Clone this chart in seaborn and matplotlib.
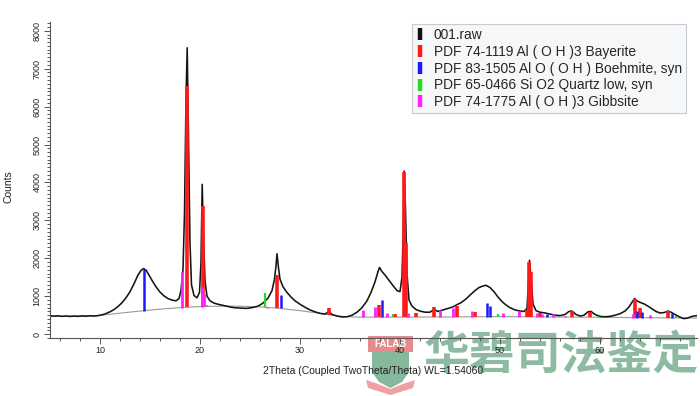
import matplotlib
matplotlib.use("Agg")
import matplotlib.pyplot as plt
import seaborn as sns
import numpy as np
import pandas as pd
from matplotlib.lines import Line2D
from matplotlib.patches import Polygon, Rectangle
from matplotlib.ticker import MultipleLocator

# ---------------- data ----------------
two_theta = [5.0, 5.4, 5.8, 6.2, 6.6, 7.0, 7.4, 7.8, 8.2, 8.6, 9.0, 9.4, 9.8, 10.2, 10.6, 11.0, 11.4, 11.8,
             12.2, 12.6, 13.0, 13.4, 13.8, 14.1, 14.35, 14.6, 14.9, 15.2, 15.6, 16.0, 16.4, 16.8, 17.2, 17.6,
             17.9, 18.1, 18.3, 18.45, 18.6, 18.72, 18.85, 19.0, 19.15, 19.4, 19.7, 19.95, 20.1, 20.22, 20.35,
             20.5, 20.7, 21.0, 21.4, 21.8, 22.3, 22.8, 23.4, 24.0, 24.6, 25.2, 25.8, 26.3, 26.8, 27.2, 27.45,
             27.6, 27.7, 27.85, 28.0, 28.3, 28.7, 29.1, 29.5, 30.0, 30.5, 31.0, 31.5, 32.0, 32.5, 32.9, 33.2,
             33.7, 34.2, 34.7, 35.2, 35.7, 36.2, 36.7, 37.1, 37.5, 37.8, 37.95, 38.2, 38.5, 38.9, 39.3, 39.7,
             40.0, 40.2, 40.33, 40.42, 40.55, 40.7, 40.9, 41.2, 41.6, 42.0, 42.5, 43.0, 43.4, 43.8, 44.3, 44.8,
             45.3, 45.7, 46.1, 46.6, 47.0, 47.5, 47.9, 48.3, 48.6, 49.0, 49.4, 49.8, 50.2, 50.6, 51.0, 51.5,
             52.0, 52.4, 52.7, 52.85, 52.95, 53.1, 53.3, 53.6, 54.0, 54.5, 55.0, 55.5, 56.0, 56.5, 56.9, 57.2,
             57.6, 58.0, 58.4, 58.8, 59.1, 59.5, 60.0, 60.5, 61.0, 61.5, 62.0, 62.5, 62.9, 63.2, 63.45, 63.7,
             64.0, 64.4, 64.8, 65.2, 65.6, 66.0, 66.4, 66.8, 67.1, 67.5, 68.0, 68.4, 68.8, 69.2, 69.7]
counts = [490, 475, 485, 470, 480, 468, 478, 470, 482, 474, 486, 478, 490, 510, 545, 590, 650, 730,
          830, 960, 1120, 1330, 1560, 1680, 1730, 1690, 1560, 1420, 1250, 1110, 1010, 940, 900, 880,
          940, 1150, 1700, 3200, 6200, 7550, 5200, 2400, 1300, 1020, 960, 1100, 1900, 3950, 2600,
          1400, 1000, 880, 820, 790, 760, 730, 700, 690, 680, 700, 740, 820, 950, 1150, 1450,
          1800, 2120, 1750, 1450, 1250, 1100, 980, 880, 790, 710, 640, 590, 550, 530, 600, 520,
          480, 455, 460, 500, 580, 700, 880, 1100, 1380, 1650, 1760, 1650, 1560, 1420, 1280, 1150,
          1120, 1500, 2800, 4300, 3300, 1600, 900, 740, 650, 610, 580, 580, 650, 600, 640, 680,
          720, 780, 830, 930, 1030, 1150, 1230, 1270, 1290, 1230, 1120, 980, 860, 770, 700, 640,
          610, 600, 680, 1400, 1950, 1500, 800, 620, 580, 560, 530, 500, 490, 520, 600, 610,
          520, 480, 500, 590, 600, 520, 470, 460, 470, 500, 540, 610, 720, 840, 940, 880,
          840, 800, 740, 670, 600, 560, 570, 610, 580, 520, 450, 410, 430, 470, 490]

bg_theta = [5, 8, 10, 12, 14, 16, 18, 20, 22, 24, 26, 28, 30, 32, 34, 36, 40, 45, 50, 55, 60, 65, 70]
bg_counts = [470, 478, 495, 555, 610, 660, 700, 728, 740, 738, 720, 680, 620, 550, 470, 450, 450, 455,
             465, 455, 445, 435, 425]

bayerite_pos = [18.7, 20.25, 27.7, 32.9, 37.85, 39.5, 40.42, 40.58, 41.6, 43.4, 45.7, 47.5, 52.7, 52.93,
                53.1, 54.0, 57.2, 59.0, 63.5, 64.0, 66.8]
bayerite_top = [6550, 3380, 1560, 690, 780, 520, 4280, 2400, 570, 710, 750, 580, 640, 1900,
                1640, 560, 600, 590, 915, 680, 600]
boehmite_pos = [14.35, 28.05, 38.2, 48.65, 49.0, 54.7, 63.7, 64.2, 67.2]
boehmite_top = [1715, 1030, 900, 830, 740, 540, 620, 580, 560]
quartz_pos = [20.7, 26.5, 36.4, 39.3, 49.8, 59.8, 67.6]
quartz_top = [770, 1080, 530, 520, 520, 480, 470]
gibbsite_pos = [18.17, 20.2, 20.4, 26.7, 36.3, 37.5, 38.7, 40.8, 44.0, 45.3, 47.2, 50.3, 51.9, 53.7,
                54.2, 55.3, 56.5, 63.3, 65.0]
gibbsite_top = [1650, 1250, 1050, 700, 630, 710, 550, 550, 650, 700, 600, 560, 620, 560,
                520, 530, 480, 520, 500]

legend_labels = ["001.raw",
                 "PDF 74-1119 Al ( O H )3 Bayerite",
                 "PDF 83-1505 Al O ( O H ) Boehmite, syn",
                 "PDF 65-0466 Si O2 Quartz low, syn",
                 "PDF 74-1775 Al ( O H )3 Gibbsite"]
legend_colors = ["#111111", "#ff1a1a", "#1a1aff", "#22dd22", "#ff22ff"]

x_label = "2Theta (Coupled TwoTheta/Theta) WL=1.54060"
y_label = "Counts"
watermark_text = "华碧司法鉴定"
watermark_badge = "FALAB"

# ---------------- plot ----------------
sns.set_theme(style="white")
plt.rcParams["font.family"] = ["Liberation Sans", "DejaVu Sans"]

W, H = 700, 396
fig = plt.figure(figsize=(7.0, 3.96), dpi=100)
fig.patch.set_facecolor("white")
ax = fig.add_axes([50 / W, 1 - 338 / H, 647 / W, 316 / H])
ax.patch.set_alpha(0)

df_raw = pd.DataFrame({"theta": two_theta, "counts": counts})
df_bg = pd.DataFrame({"theta": bg_theta, "counts": bg_counts})

sns.lineplot(data=df_bg, x="theta", y="counts", ax=ax, color="#9a9a9a", lw=0.8, zorder=1)
sns.lineplot(data=df_raw, x="theta", y="counts", ax=ax, color="#151515", lw=1.15, zorder=2)

phases = [(bayerite_pos, bayerite_top, legend_colors[1], 2.6),
          (boehmite_pos, boehmite_top, legend_colors[2], 1.8),
          (quartz_pos, quartz_top, legend_colors[3], 1.6),
          (gibbsite_pos, gibbsite_top, legend_colors[4], 2.0)]
for pos, top, col, lw in phases:
    base = np.interp(pos, bg_theta, bg_counts)
    ax.vlines(pos, base, top, colors=col, lw=lw, zorder=3)

ax.set_xlim(5, 69.7)
ax.set_ylim(-100, 8230)
ax.xaxis.set_major_locator(MultipleLocator(10))
ax.xaxis.set_minor_locator(MultipleLocator(2))
ax.yaxis.set_major_locator(MultipleLocator(1000))
ax.yaxis.set_minor_locator(MultipleLocator(100))
ax.set_xticks([10, 20, 30, 40, 50, 60])
ax.tick_params(axis="both", which="both", direction="out", color="#555555", width=0.7)
ax.tick_params(axis="both", which="major", length=4, labelsize=6.5, labelcolor="#222222", pad=2)
ax.tick_params(axis="both", which="minor", length=2)
ax.tick_params(axis="both", which="both", bottom=True, left=True)
for lbl in ax.get_yticklabels():
    lbl.set_rotation(90)
    lbl.set_va("center")
for s in ["top", "right"]:
    ax.spines[s].set_visible(False)
for s in ["left", "bottom"]:
    ax.spines[s].set_color("#555555")
    ax.spines[s].set_linewidth(0.8)

ax.set_xlabel(x_label, fontsize=7.5, color="#222222", labelpad=8)
ax.set_ylabel("")
fig.text(8 / W, 1 - 187 / H, y_label, rotation=90, ha="center", va="center", fontsize=7.5, color="#222222")

handles = [Line2D([], [], marker="|", markersize=9, markeredgewidth=3.2, linestyle="none", color=c)
           for c in legend_colors]
leg = ax.legend(handles, legend_labels, loc="upper left", bbox_to_anchor=(412 / W, 1 - 24 / H),
                bbox_transform=fig.transFigure, fontsize=9.9, frameon=True, fancybox=False,
                handlelength=0.6, handletextpad=0.7, labelspacing=0.2, borderpad=0.3,
                borderaxespad=0, framealpha=1)
leg.get_frame().set_facecolor("#f6f7f9")
leg.get_frame().set_edgecolor("#c5cad3")
leg.get_frame().set_linewidth(0.8)

# watermark (drawn behind the axes so the tick labels stay on top)
green = "#86b89c"
fig.text(561 / W, 1 - 356 / H, watermark_text, ha="center", va="center", fontsize=33,
         fontweight="bold", color=green, family=["Noto Sans CJK SC", "DejaVu Sans"], alpha=0.95, zorder=-2)
fig.patches.append(Rectangle((368 / W, 1 - 352 / H), 45 / W, 16 / H, transform=fig.transFigure,
                             facecolor="#e88a8c", edgecolor="none", zorder=-2))
fig.text(390.5 / W, 1 - 344 / H, watermark_badge, ha="center", va="center", fontsize=7,
         fontweight="bold", color="white", zorder=-1)
shield = [(372, 352), (409, 352), (409, 372), (402, 382), (390.5, 388), (379, 382), (372, 372)]
fig.patches.append(Polygon([(x / W, 1 - y / H) for x, y in shield], closed=True,
                           transform=fig.transFigure, facecolor=green, edgecolor="none", zorder=-2))
ribbon = [(366, 380), (378, 384), (390.5, 389), (403, 384), (415, 380), (413, 388), (390.5, 395), (368, 388)]
fig.patches.append(Polygon([(x / W, 1 - y / H) for x, y in ribbon], closed=True,
                           transform=fig.transFigure, facecolor="#f0a0a0", edgecolor="none", zorder=-2))

fig.savefig("out.png", dpi=100, facecolor="white")
